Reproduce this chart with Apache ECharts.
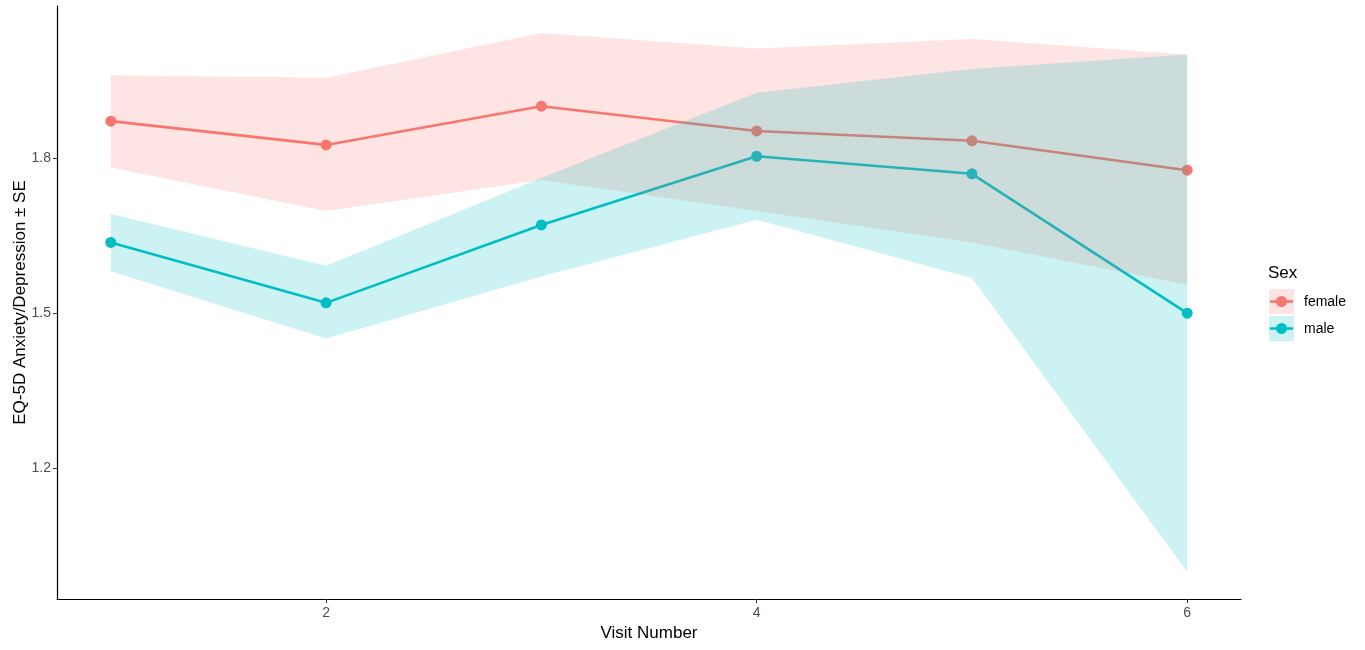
<!DOCTYPE html>
<html>
<head>
<meta charset="utf-8">
<script src="https://cdn.jsdelivr.net/npm/echarts@6/dist/echarts.min.js"></script>
<style>html,body{margin:0;padding:0;background:#fff}#c{width:1365px;height:650px}</style>
</head>
<body>
<div id="c"></div>
<script>
const visits = [1, 2, 3, 4, 5, 6];
const femaleMean  = [1.872, 1.826, 1.901, 1.853, 1.834, 1.777];
const femaleLower = [1.782, 1.698, 1.758, 1.698, 1.637, 1.555];
const femaleUpper = [1.961, 1.956, 2.043, 2.013, 2.031, 2.001];
const maleMean  = [1.637, 1.520, 1.671, 1.804, 1.770, 1.500];
const maleLower = [1.581, 1.451, 1.571, 1.681, 1.568, 0.999];
const maleUpper = [1.692, 1.592, 1.762, 1.927, 1.973, 2.001];
const xTicks = [2, 4, 6];
const yTicks = [1.2, 1.5, 1.8];
const groups = ['female', 'male'];
const colors = ['#F8766D', '#00BFC4'];

const FONT = '"Liberation Sans", Arial, Helvetica, sans-serif';
const pair = (ys) => visits.map((v, i) => [v, ys[i]]);

function lineSeries(name, ys, color, z) {
  return {
    name, type: 'line', data: pair(ys), z,
    symbol: 'circle', symbolSize: 11, showSymbol: true,
    lineStyle: { color, width: 2.6 }, itemStyle: { color },
    emphasis: { disabled: true }, silent: true, animation: false
  };
}
function bandSeries(name, lo, up, color, z) {
  return {
    name: name + '_band', type: 'custom', z, silent: true, animation: false,
    clip: true,
    data: [[visits[0], lo[0]]],
    renderItem: function (params, api) {
      const pts = [];
      for (let i = 0; i < visits.length; i++) pts.push(api.coord([visits[i], up[i]]));
      for (let i = visits.length - 1; i >= 0; i--) pts.push(api.coord([visits[i], lo[i]]));
      return {
        type: 'polygon',
        shape: { points: pts },
        style: { fill: color, opacity: 0.2 }
      };
    }
  };
}

const chart = echarts.init(document.getElementById('c'), null, { renderer: 'canvas' });
chart.setOption({
  backgroundColor: '#fff',
  animation: false,
  textStyle: { fontFamily: FONT },
  grid: { left: 57, right: 124, top: 6, bottom: 51, containLabel: false, outerBoundsMode: 'none' },
  xAxis: {
    type: 'value', min: 0.75, max: 6.25,
    name: 'Visit Number', nameLocation: 'middle', nameGap: 26, nameMoveOverlap: false,
    nameTextStyle: { fontSize: 17, color: '#000', fontFamily: FONT },
    axisLine: { show: true, onZero: false, lineStyle: { color: '#000', width: 1.2 } },
    axisTick: { show: true, customValues: xTicks, length: 4, lineStyle: { color: '#333' } },
    axisLabel: { customValues: xTicks, color: '#4D4D4D', fontSize: 14, margin: 7, fontFamily: FONT },
    splitLine: { show: false }
  },
  yAxis: {
    type: 'value', min: 0.9463, max: 2.0951,
    name: 'EQ-5D Anxiety/Depression ± SE', nameLocation: 'middle', nameGap: 28, nameRotate: 90,
    nameMoveOverlap: false,
    nameTextStyle: { fontSize: 17, color: '#000', fontFamily: FONT },
    axisLine: { show: true, onZero: false, lineStyle: { color: '#000', width: 1.2 } },
    axisTick: { show: true, customValues: yTicks, length: 4, lineStyle: { color: '#333' } },
    axisLabel: { customValues: yTicks, color: '#4D4D4D', fontSize: 14, margin: 6, fontFamily: FONT,
      formatter: (v) => v.toFixed(1) },
    splitLine: { show: false }
  },
  series: [
    lineSeries(groups[0], femaleMean, colors[0], 2),
    lineSeries(groups[1], maleMean, colors[1], 2),
    bandSeries(groups[0], femaleLower, femaleUpper, colors[0], 3),
    bandSeries(groups[1], maleLower, maleUpper, colors[1], 4)
  ],
  graphic: [
    { type: 'text', x: 1268, y: 273, style: { text: 'Sex', font: '17px ' + FONT, fill: '#000', verticalAlign: 'middle' } },
    ...groups.flatMap((g, i) => {
      const top = 289 + i * 27;
      const cy = top + 12.5;
      return [
        { type: 'rect', shape: { x: 1269, y: top, width: 25, height: 25 }, style: { fill: colors[i], opacity: 0.2 } },
        { type: 'line', shape: { x1: 1270, y1: cy, x2: 1293, y2: cy }, style: { stroke: colors[i], lineWidth: 2.6 } },
        { type: 'circle', shape: { cx: 1281.5, cy: cy, r: 5.5 }, style: { fill: colors[i] } },
        { type: 'text', x: 1304, y: cy + 1, style: { text: g, font: '14px ' + FONT, fill: '#000', verticalAlign: 'middle' } }
      ];
    })
  ]
});
</script>
</body>
</html>
